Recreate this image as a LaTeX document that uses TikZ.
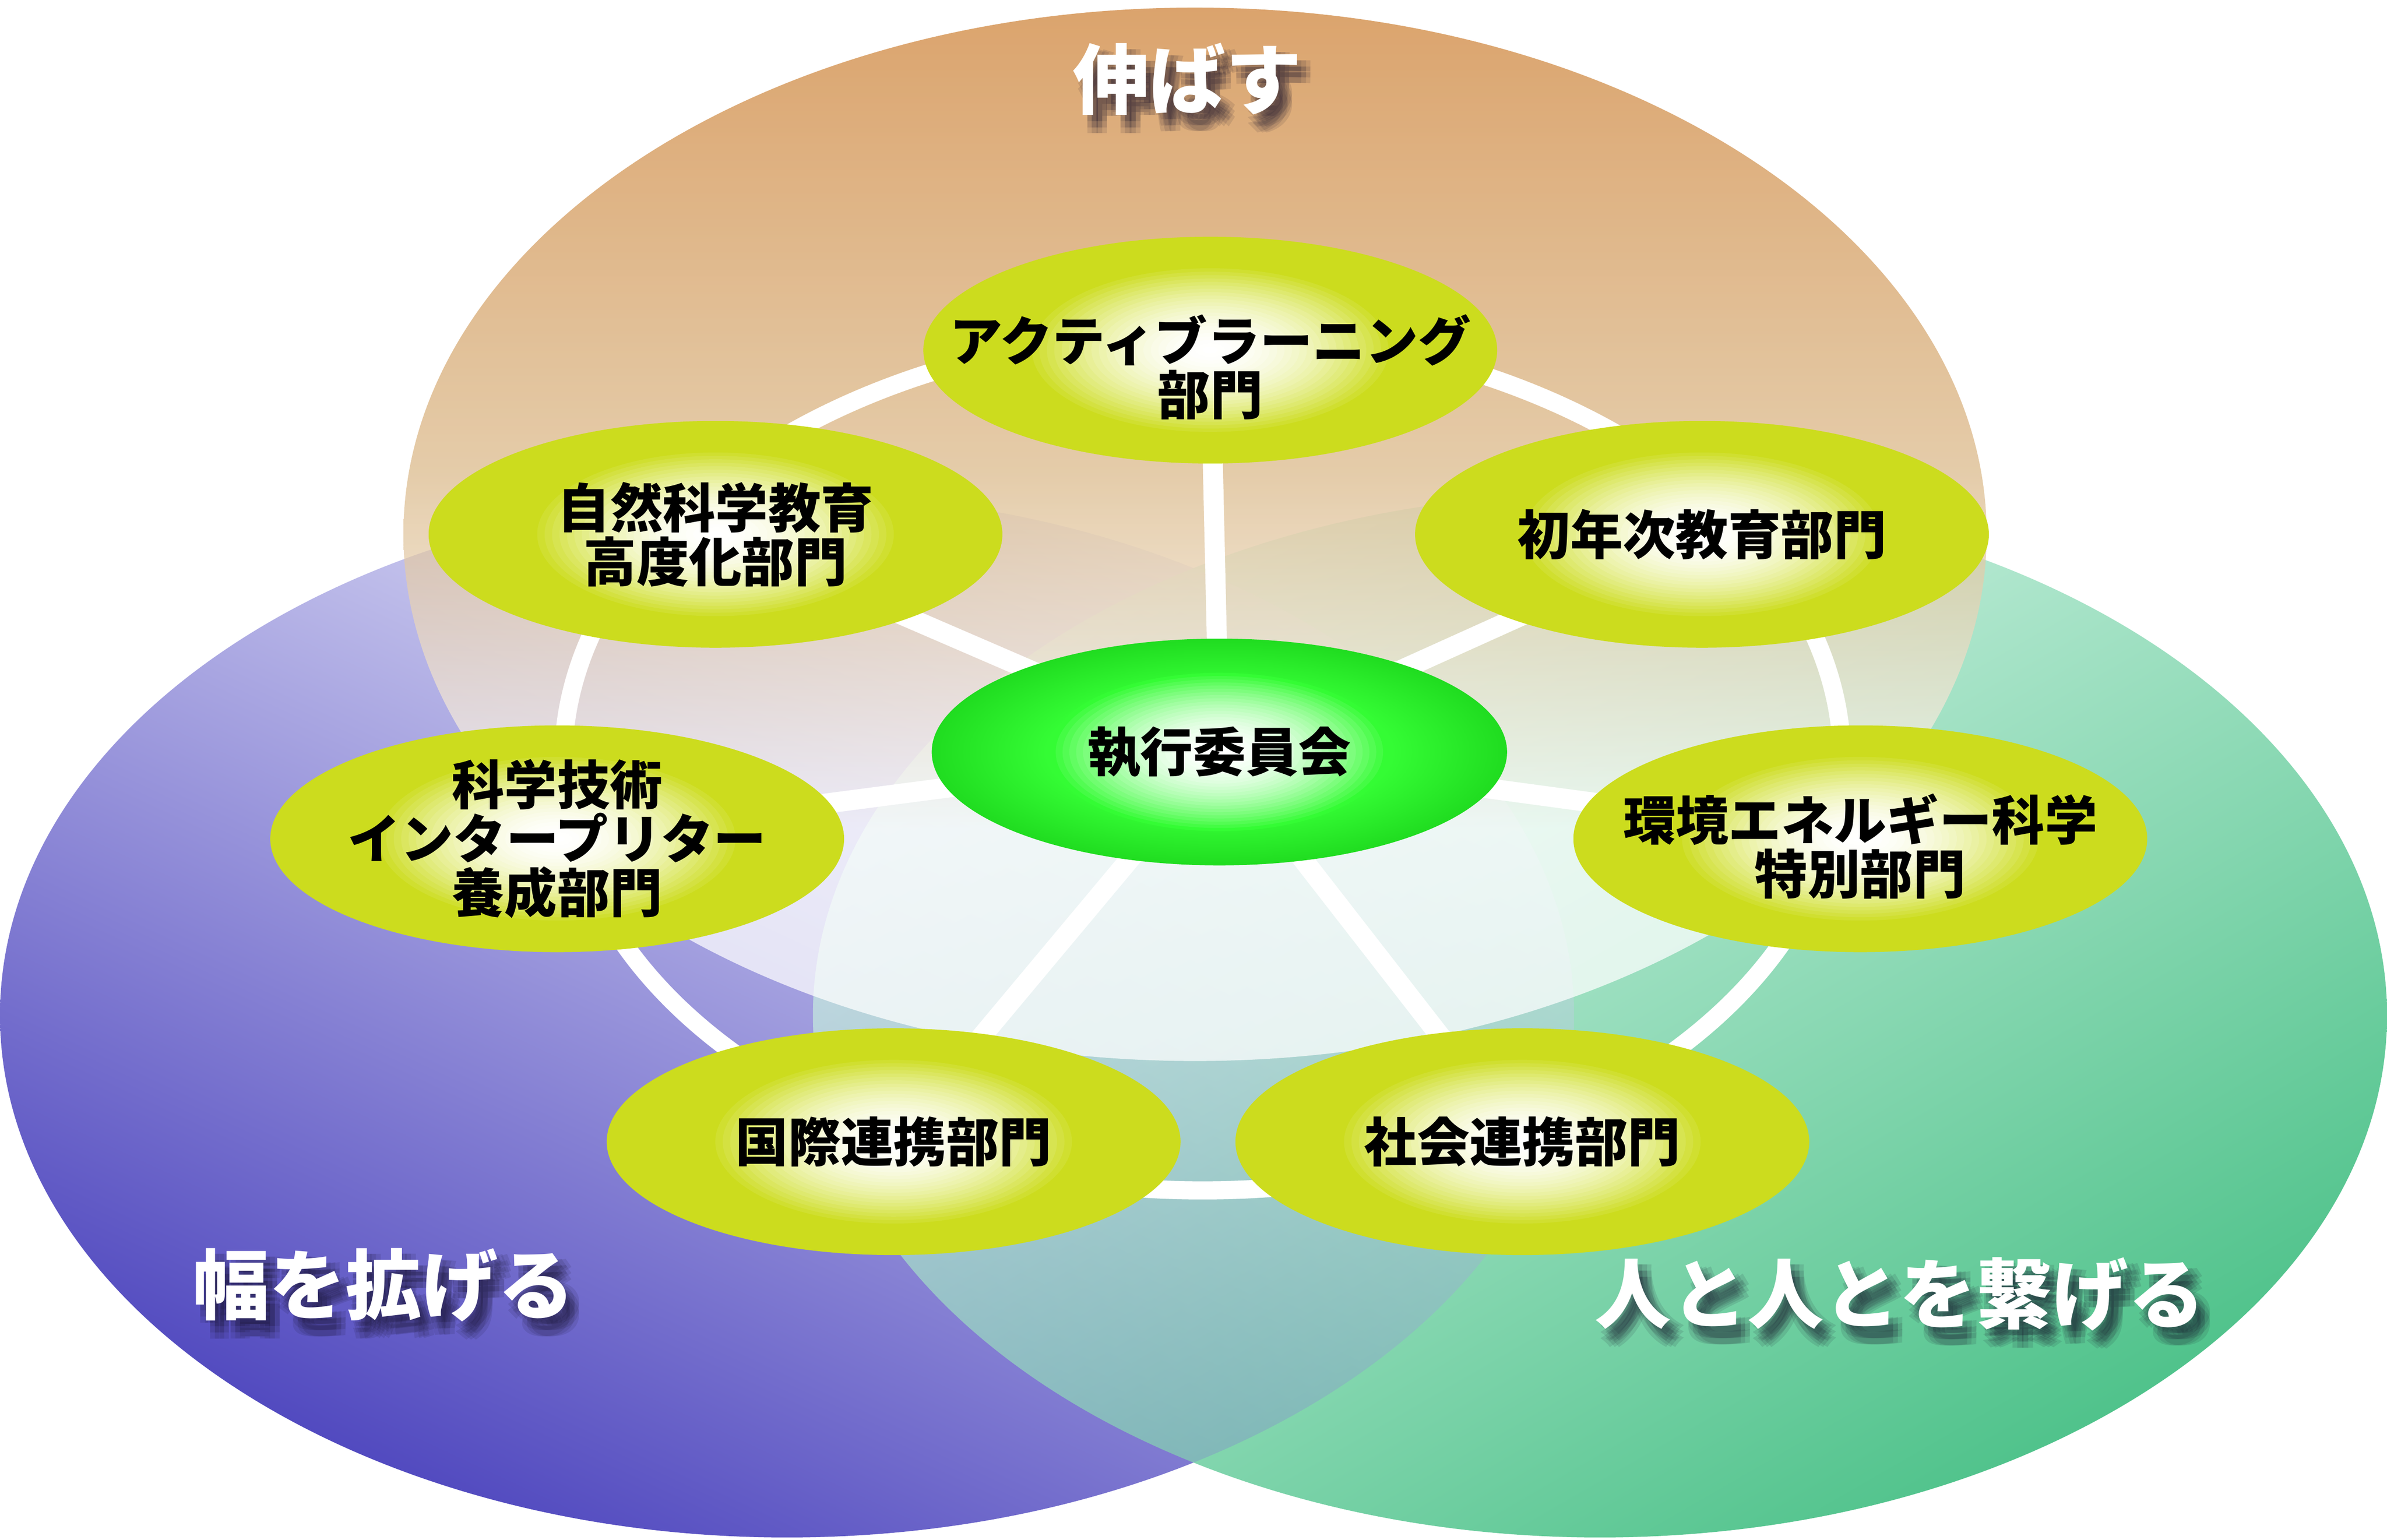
\documentclass[tikz,border=0pt]{standalone}
\usepackage{fontspec}
\newfontfamily\jpfont{Noto Sans CJK JP}
\usetikzlibrary{shapes.geometric}

\definecolor{deptgreen}{RGB}{204,220,30}
\definecolor{execbright}{RGB}{52,252,52}
\definecolor{execgreen}{RGB}{32,220,32}
\definecolor{growtop}{RGB}{205,128,52}
\definecolor{growmid}{RGB}{218,184,136}
\definecolor{widelight}{RGB}{240,241,253}
\definecolor{widemid}{RGB}{162,162,230}
\definecolor{widedark}{RGB}{78,70,190}
\definecolor{linklight}{RGB}{226,249,240}
\definecolor{linkmid}{RGB}{142,220,184}
\definecolor{linkdark}{RGB}{78,194,138}
\definecolor{themeshade}{RGB}{20,15,40}

\pgfdeclareradialshading{execbody}{\pgfpoint{0bp}{0bp}}{color(0bp)=(execbright); color(15bp)=(execbright); color(25bp)=(execgreen); color(50bp)=(execgreen)}
\pgfdeclareverticalshading{growfade}{100bp}{color(0bp)=(white); color(36bp)=(white); color(53bp)=(growmid); color(75bp)=(growtop); color(100bp)=(growtop)}

\pgfdeclarelayer{bg}
\pgfdeclarelayer{links}
\pgfsetlayers{bg,links,main}

% white heading with a soft dark shadow
\newcommand\themelabel[3]{%
  \foreach \sx in {3,6,9}{\foreach \sy in {4,8,12}{
    \node[themeshadow, xshift=\sx*0.02cm, yshift=-\sy*0.02cm] (#1-s\sx\sy) at #2 {#3};}}
  \node[theme] (#1) at #2 {#3};}

\begin{document}
\begin{tikzpicture}[x=0.02cm, y=-0.02cm,
    dept/.style={ellipse, minimum width=7.54cm, minimum height=2.98cm, inner sep=0pt, fill=deptgreen,
        path picture={\foreach \f [evaluate=\f as \p using 100*\f*\f] in {1,0.96,...,0.03}
            \fill[deptgreen!\p!white] (path picture bounding box.center) ellipse [x radius=122*\f, y radius=56*\f];}},
    exec/.style={ellipse, minimum width=7.56cm, minimum height=2.98cm, inner sep=0pt, shade, shading=execbody,
        path picture={\foreach \f [evaluate=\f as \p using 100*\f*\f] in {1,0.96,...,0.03}
            \fill[execbright!\p!white] (path picture bounding box.center) ellipse [x radius=112*\f, y radius=52*\f];}},
    depttext/.style={font=\jpfont\bfseries\fontsize{19.7}{20.2}\selectfont, align=center, inner sep=0pt},
    theme/.style={font=\jpfont\bfseries\fontsize{28.5}{30}\selectfont, text=white, inner sep=0pt},
    themeshadow/.style={theme, text=themeshade, text opacity=0.11},
    ring/.style={draw=white, line width=6.8pt},
    spoke/.style={draw=white, line width=7.5pt}]
    \useasboundingbox (0,0) rectangle (1568,1011.6);

    \begin{pgfonlayer}{bg}
        % the three fields
        \shade[top color=widelight, middle color=widemid, bottom color=widedark, shading angle=-25] (517,667) ellipse [x radius=517, y radius=343];
        \shade[top color=linklight, middle color=linkmid, bottom color=linkdark, shading angle=30] (1051,667) ellipse [x radius=517, y radius=343];
        \begin{scope}
            \clip (1051,667) ellipse [x radius=517, y radius=343];
            \shade[top color=widelight, middle color=widemid, bottom color=widedark, shading angle=-25, fill opacity=0.32] (517,667) ellipse [x radius=517, y radius=343];
        \end{scope}
        \shade[shading=growfade, fill opacity=0.72] (785,351) ellipse [x radius=520, y radius=346];

        \draw[ring] (790,500) ellipse [x radius=420, y radius=282];
    \end{pgfonlayer}

    \node[exec] (exec) at (801,494) {};
    \node[dept] (al) at (795,230) {};
    \node[dept] (ns) at (470,351) {};
    \node[dept] (fy) at (1118,351) {};
    \node[dept] (st) at (366,551) {};
    \node[dept] (ee) at (1222,551) {};
    \node[dept] (ic) at (587,750) {};
    \node[dept] (sc) at (1000,750) {};

    \node[depttext] (exec-t) at (exec) {執行委員会};
    \node[depttext] (al-t) at (795,241) {アクティブラーニング\\部門};
    \node[depttext] (ns-t) at (ns) {自然科学教育\\高度化部門};
    \node[depttext] (fy-t) at (fy) {初年次教育部門};
    \node[depttext] (st-t) at (st) {科学技術\\インタープリター\\養成部門};
    \node[depttext] (ee-t) at (1222,556) {環境エネルギー科学\\特別部門};
    \node[depttext] (ic-t) at (ic) {国際連携部門};
    \node[depttext] (sc-t) at (sc) {社会連携部門};

    \begin{pgfonlayer}{links}
        \foreach \d in {al,ns,fy,st,ee,ic,sc}
            \draw[spoke] (exec.center) -- (\d.center);
    \end{pgfonlayer}

    \themelabel{grow}{(780,52)}{伸ばす}
    \themelabel{wide}{(252,844)}{幅を拡げる}
    \themelabel{link}{(1248,850)}{人と人とを繋げる}
\end{tikzpicture}
\end{document}
